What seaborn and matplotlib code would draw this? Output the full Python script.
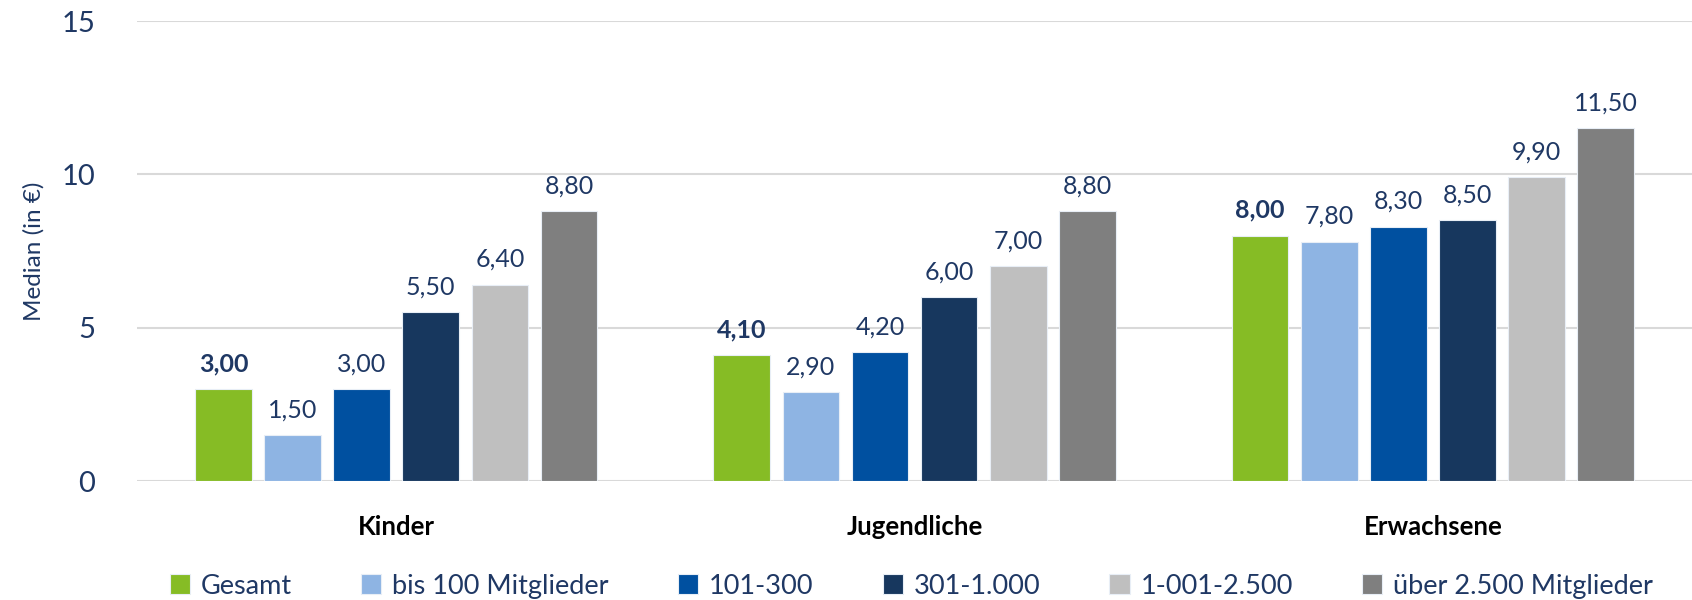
import matplotlib.pyplot as plt
import seaborn as sns
import pandas as pd

categories = ['Kinder', 'Jugendliche', 'Erwachsene']
groups = ['Gesamt', 'bis 100 Mitglieder', '101-300', '301-1.000', '1-001-2.500', 'über 2.500 Mitglieder']
gesamt = [3.0, 4.1, 8.0]
bis_100 = [1.5, 2.9, 7.8]
m101_300 = [3.0, 4.2, 8.3]
m301_1000 = [5.5, 6.0, 8.5]
m1001_2500 = [6.4, 7.0, 9.9]
ueber_2500 = [8.8, 8.8, 11.5]
colors = ['#86BC25', '#8EB4E3', '#0050A0', '#17375E', '#BFBFBF', '#7F7F7F']

series = [gesamt, bis_100, m101_300, m301_1000, m1001_2500, ueber_2500]
rows = []
for g, vals in zip(groups, series):
    for c, v in zip(categories, vals):
        rows.append({'Kategorie': c, 'Gruppe': g, 'Median': v})
df = pd.DataFrame(rows)

sns.set_style('white')
plt.rcParams['font.family'] = ['Lato', 'DejaVu Sans']
text_col = '#1F3864'

fig, ax = plt.subplots(figsize=(16.92, 6), dpi=100)
sns.barplot(data=df, x='Kategorie', y='Median', hue='Gruppe', hue_order=groups,
            palette=colors, saturation=1, width=0.8, gap=0.18,
            edgecolor='#e8eef6', linewidth=0.8, ax=ax, legend=True)

for i, cont in enumerate(ax.containers):
    labels = [f'{v:.2f}'.replace('.', ',') for v in cont.datavalues]
    ax.bar_label(cont, labels=labels, padding=10, fontsize=18, color=text_col,
                 fontweight='bold' if i == 0 else 'normal')

ax.set_ylim(0, 15)
ax.set_yticks([0, 5, 10, 15])
ax.set_xlim(-0.5, 2.5)
ax.yaxis.grid(True, color='#D9D9D9', linewidth=1.5)
ax.set_axisbelow(True)
for s in ax.spines.values():
    s.set_visible(False)
ax.tick_params(axis='y', labelsize=21, labelcolor=text_col, length=0, pad=30)
ax.tick_params(axis='x', labelsize=18.5, labelcolor='#000000', length=0, pad=24)
for t in ax.get_xticklabels():
    t.set_fontweight('bold')
ax.set_xlabel('')
ax.set_ylabel('Median (in €)', fontsize=17.5, color=text_col, labelpad=12)

ax.legend(loc='upper center', bbox_to_anchor=(0.498, -0.148), ncol=6, frameon=False,
          fontsize=19.5, labelcolor=text_col, handlelength=0.75, handleheight=0.75,
          handletextpad=0.4, columnspacing=2.55)

plt.subplots_adjust(left=0.081, right=1.0, top=0.965, bottom=0.198)
plt.savefig('out.png', dpi=100)
